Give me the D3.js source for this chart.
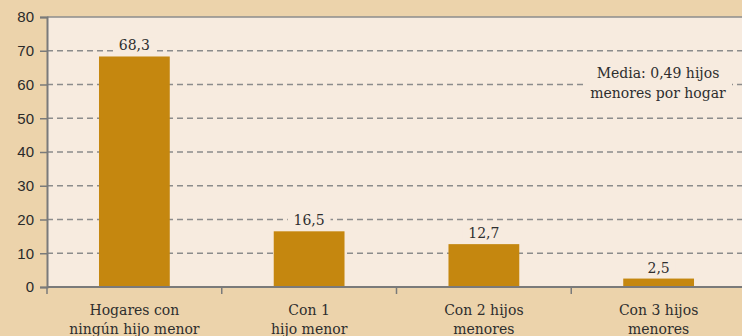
<!DOCTYPE html>
<html>
<head>
<meta charset="utf-8">
<script src="https://cdn.jsdelivr.net/npm/d3@7"></script>
<style>
  body { margin: 0; background: #ecd3ab; }
  svg { display: block; }
</style>
</head>
<body>
<div id="chart"></div>
<script>
// Data
const categories = [["Hogares con", "ningún hijo menor"], ["Con 1", "hijo menor"], ["Con 2 hijos", "menores"], ["Con 3 hijos", "menores"]];
const values = [68.3, 16.5, 12.7, 2.5];
const valueLabels = ["68,3", "16,5", "12,7", "2,5"];
const yTicks = [0, 10, 20, 30, 40, 50, 60, 70, 80];
const note = ["Media: 0,49 hijos", "menores por hogar"];

const width = 742, height = 336;
const margin = {top: 17, right: -4, bottom: 49, left: 47};
const serif = "'DejaVu Serif', 'Liberation Serif', serif";
const sans = "'Liberation Sans', Arial, sans-serif";

let svg = d3.select("#chart")
    .append("svg")
    .attr("width", width)
    .attr("height", height);

svg.append("rect").attr("width", width).attr("height", height).attr("fill", "#ecd3ab");

let x = d3.scaleBand()
    .domain(d3.range(categories.length))
    .range([margin.left, width - margin.right]);

let y = d3.scaleLinear()
    .domain([0, 80])
    .range([height - margin.bottom, margin.top]);

// plot background
svg.append("rect")
    .attr("x", margin.left)
    .attr("y", y(80))
    .attr("width", width - margin.left)
    .attr("height", y(0) - y(80))
    .attr("fill", "#f7ebdf");

// gridlines
svg.append("g")
    .selectAll("line")
    .data(yTicks.filter(d => d > 0 && d < 80))
    .enter()
    .append("line")
    .attr("x1", margin.left)
    .attr("x2", width)
    .attr("y1", d => y(d))
    .attr("y2", d => y(d))
    .attr("stroke", "#8c8c8c")
    .attr("stroke-width", 1.5)
    .attr("stroke-dasharray", "6,4");

// top line
svg.append("line")
    .attr("x1", margin.left).attr("x2", width)
    .attr("y1", y(80)).attr("y2", y(80))
    .attr("stroke", "#8c8c8c").attr("stroke-width", 1.5);

// bars
const barW = x.bandwidth() * 0.405;
svg.append("g")
    .selectAll("rect")
    .data(values)
    .enter()
    .append("rect")
    .attr("x", (d, i) => x(i) + x.bandwidth() / 2 - barW / 2)
    .attr("y", d => y(d))
    .attr("width", barW)
    .attr("height", d => y(0) - y(d))
    .attr("fill", "#c5870f");

// value labels with knockout background
let vl = svg.append("g")
    .selectAll("g")
    .data(values)
    .enter()
    .append("g")
    .attr("transform", (d, i) => `translate(${x(i) + x.bandwidth() / 2}, ${y(d) - 6})`);
vl.append("rect")
    .attr("x", (d, i) => -valueLabels[i].length * 4.6 - 3)
    .attr("y", -13)
    .attr("width", (d, i) => valueLabels[i].length * 9.2 + 6)
    .attr("height", 15)
    .attr("fill", "#f7ebdf");
vl.append("text")
    .attr("text-anchor", "middle")
    .style("font-family", serif)
    .style("font-size", "14px")
    .attr("fill", "#2e2e2e")
    .text((d, i) => valueLabels[i]);

// y axis
let yAxis = svg.append("g")
    .attr("transform", `translate(${margin.left},0)`)
    .call(d3.axisLeft(y).tickValues(yTicks).tickSize(7).tickPadding(6));
yAxis.select(".domain").attr("stroke", "#7a7a7a").attr("stroke-width", 2);
yAxis.selectAll(".tick line").attr("stroke", "#7a7a7a").attr("stroke-width", 1.5);
yAxis.selectAll(".tick text")
    .style("font-family", sans)
    .style("font-size", "15px")
    .attr("fill", "#2a2a2a");

// x axis
let xTicks = d3.range(categories.length).map(i => x(i));
let xAxis = svg.append("g");
xAxis.append("line")
    .attr("x1", margin.left).attr("x2", width)
    .attr("y1", y(0)).attr("y2", y(0))
    .attr("stroke", "#7a7a7a").attr("stroke-width", 2);
xAxis.selectAll(".xt")
    .data(xTicks)
    .enter()
    .append("line")
    .attr("x1", d => d).attr("x2", d => d)
    .attr("y1", y(0)).attr("y2", y(0) + 7)
    .attr("stroke", "#7a7a7a").attr("stroke-width", 1.5);

let catLabels = svg.append("g")
    .selectAll("text")
    .data(categories)
    .enter()
    .append("text")
    .attr("text-anchor", "middle")
    .attr("x", (d, i) => x(i) + x.bandwidth() / 2)
    .attr("y", y(0) + 28)
    .style("font-family", serif)
    .style("font-size", "14px")
    .attr("fill", "#2e2e2e");
catLabels.selectAll("tspan")
    .data(d => d)
    .enter()
    .append("tspan")
    .attr("x", function() { return d3.select(this.parentNode).attr("x"); })
    .attr("dy", (d, i) => i === 0 ? 0 : 19)
    .text(d => d);

// note
let noteG = svg.append("g").attr("transform", "translate(658, 0)");
noteG.append("rect")
    .attr("x", -74).attr("y", 62)
    .attr("width", 148).attr("height", 38)
    .attr("fill", "#f7ebdf");
noteG.selectAll("text")
    .data(note)
    .enter()
    .append("text")
    .attr("text-anchor", "middle")
    .attr("y", (d, i) => 78 + i * 20)
    .style("font-family", serif)
    .style("font-size", "14px")
    .attr("fill", "#2e2e2e")
    .text(d => d);
</script>
</body>
</html>
